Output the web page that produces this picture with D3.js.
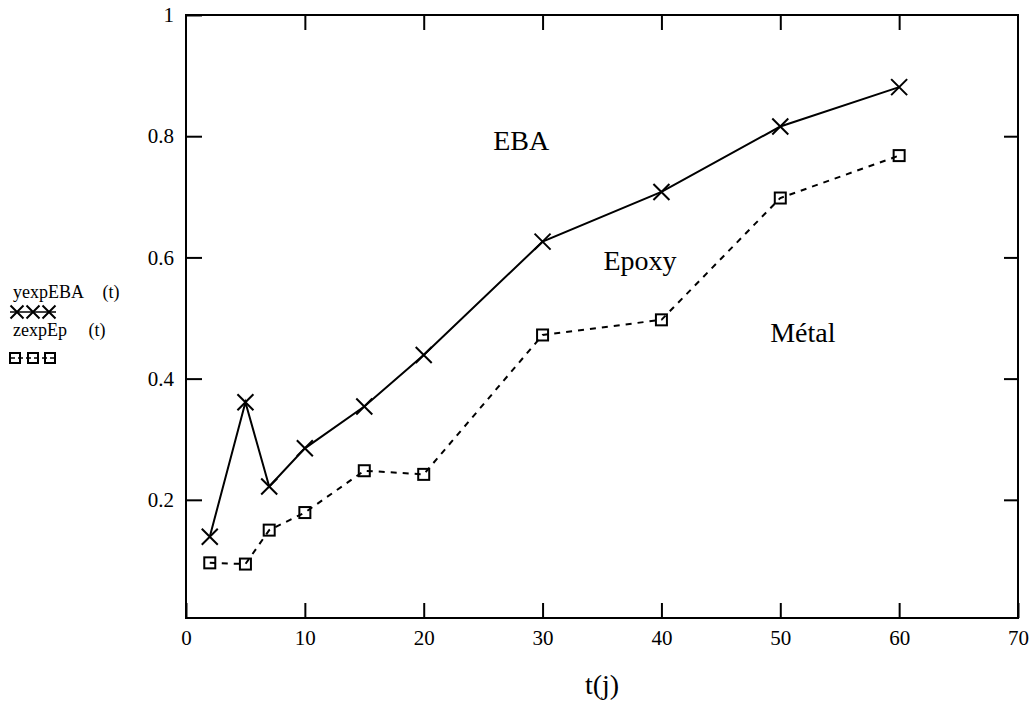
<!DOCTYPE html>
<html><head><meta charset="utf-8">
<script src="https://cdn.jsdelivr.net/npm/d3@7"></script>
<style>body{margin:0;background:#fff}svg{display:block}svg text{font-family:"Liberation Serif","Times New Roman",serif;fill:#000}</style>
</head><body>
<svg id="c" width="1035" height="706"></svg>
<script>
const tValues = [2, 5, 7, 10, 15, 20, 30, 40, 50, 60];
const yexpEBA = [0.139, 0.361, 0.222, 0.285, 0.354, 0.439, 0.626, 0.708, 0.816, 0.881];
const zexpEp = [0.096, 0.094, 0.150, 0.179, 0.248, 0.242, 0.472, 0.497, 0.698, 0.768];
const xTicks = [0, 10, 20, 30, 40, 50, 60, 70];
const yTicks = [0.2, 0.4, 0.6, 0.8, 1];
const regionLabels = [{text: "EBA", t: 28.2, v: 0.777}, {text: "Epoxy", t: 38.2, v: 0.579}, {text: "Métal", t: 51.9, v: 0.460}];
const legendNames = ["yexpEBA (t)", "zexpEp (t)"];

const serif = '"Liberation Serif","Times New Roman",serif';
const svg = d3.select("#c");
const L = 186, R = 1018, T = 15, B = 618;
const x = d3.scaleLinear().domain([0, 70]).range([L, R]);
const y = d3.scaleLinear().domain([0.005, 1]).range([B, T]);

// frame
svg.append("rect").attr("x", L).attr("y", T).attr("width", R - L).attr("height", B - T)
  .attr("fill", "none").attr("stroke", "#000").attr("stroke-width", 2);

const tk = 15;
const gB = svg.append("g").attr("transform", `translate(0,${B})`)
  .call(d3.axisBottom(x).tickValues(xTicks).tickSizeInner(-tk).tickSizeOuter(0).tickPadding(12).tickFormat(d3.format("d")));
const gT = svg.append("g").attr("transform", `translate(0,${T})`)
  .call(d3.axisTop(x).tickValues(xTicks.slice(1, -1)).tickSizeInner(-tk).tickSizeOuter(0).tickFormat(""));
const gL = svg.append("g").attr("transform", `translate(${L},0)`)
  .call(d3.axisLeft(y).tickValues(yTicks).tickSizeInner(-16).tickSizeOuter(0).tickPadding(12).tickFormat(d => d === 1 ? "1" : d3.format(".1f")(d)));
const gR = svg.append("g").attr("transform", `translate(${R},0)`)
  .call(d3.axisRight(y).tickValues(yTicks.slice(0, -1)).tickSizeInner(-14).tickSizeOuter(0).tickFormat(""));
[gB, gT, gL, gR].forEach(g => {
  g.attr("font-family", serif).attr("font-size", 21);
  g.select(".domain").remove();
  g.selectAll(".tick line").attr("stroke", "#000").attr("stroke-width", 2);
  g.selectAll("text").style("font-family", serif).style("font-size", "21px").attr("fill", "#000");
});

// axis label
svg.append("text").attr("x", x(35)).attr("y", 694).attr("text-anchor", "middle")
  .style("font-family", serif).style("font-size", "28px").text("t(j)");

// region labels
svg.selectAll(".rl").data(regionLabels).enter().append("text")
  .attr("x", d => x(d.t)).attr("y", d => y(d.v)).attr("text-anchor", "middle")
  .style("font-family", serif).style("font-size", "28px").text(d => d.text);

const line = d3.line().x(d => x(d[0])).y(d => y(d[1]));
const ebaPts = tValues.map((t, i) => [t, yexpEBA[i]]);
const epPts = tValues.map((t, i) => [t, zexpEp[i]]);

svg.append("path").attr("d", line(ebaPts)).attr("fill", "none").attr("stroke", "#000").attr("stroke-width", 2);
svg.append("path").attr("d", line(epPts)).attr("fill", "none").attr("stroke", "#000").attr("stroke-width", 2).attr("stroke-dasharray", "6,6");

function cross(g, cx, cy, s) {
  g.append("path").attr("d", `M${cx - s},${cy - s}L${cx + s},${cy + s}M${cx - s},${cy + s}L${cx + s},${cy - s}`)
    .attr("stroke", "#000").attr("stroke-width", 2).attr("fill", "none");
}
function square(g, cx, cy, s) {
  g.append("rect").attr("x", cx - s).attr("y", cy - s).attr("width", 2 * s).attr("height", 2 * s)
    .attr("fill", "none").attr("stroke", "#000").attr("stroke-width", 2);
}
const mk = svg.append("g");
ebaPts.forEach(d => cross(mk, x(d[0]), y(d[1]), 8));
epPts.forEach(d => square(mk, x(d[0]), y(d[1]), 5.5));

// legend
const lg = svg.append("g");
lg.append("text").attr("x", 13).attr("y", 298).style("font-family", serif).style("font-size", "18px")
  .style("word-spacing", "15px").text(legendNames[0]);
lg.append("line").attr("x1", 10).attr("x2", 56).attr("y1", 312).attr("y2", 312).attr("stroke", "#000").attr("stroke-width", 1.5);
[17, 33, 49].forEach(cx => cross(lg, cx, 312, 6.5));
lg.append("text").attr("x", 13).attr("y", 336).style("font-family", serif).style("font-size", "18px")
  .style("word-spacing", "17px").text(legendNames[1]);
lg.append("line").attr("x1", 10).attr("x2", 56).attr("y1", 358).attr("y2", 358).attr("stroke", "#000").attr("stroke-width", 1.5).attr("stroke-dasharray", "5,3");
[15, 33, 50].forEach(cx => square(lg, cx, 358, 5));
</script>
</body></html>
